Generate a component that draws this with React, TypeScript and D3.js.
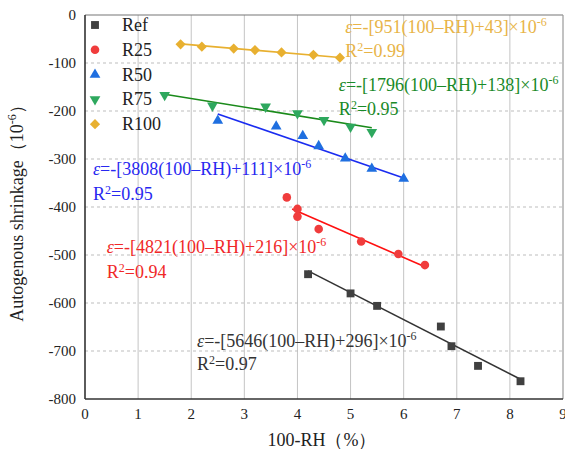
import React from "react";
import * as d3 from "d3";

const seriesNames = ["Ref", "R25", "R50", "R75", "R100"];
const refX = [4.2, 5.0, 5.5, 6.7, 6.9, 7.4, 8.2];
const refY = [-540, -580, -606, -649, -690, -731, -763];
const r25X = [3.8, 4.0, 4.0, 4.4, 5.2, 5.9, 6.4];
const r25Y = [-380, -404, -420, -446, -472, -498, -521];
const r50X = [2.5, 3.6, 4.1, 4.4, 4.9, 5.4, 6.0];
const r50Y = [-220, -232, -252, -273, -299, -320, -341];
const r75X = [1.5, 2.4, 3.4, 4.0, 4.5, 5.0, 5.4];
const r75Y = [-167, -189, -191, -205, -219, -233, -244];
const r100X = [1.8, 2.2, 2.8, 3.2, 3.7, 4.3, 4.8];
const r100Y = [-61, -66, -70, -73, -78, -83, -89];

// fit equations: eps = -[a(100-RH)+b]x10^-6 (100-RH as fraction)
const fitA = [5646, 4821, 3808, 1796, 951];
const fitB = [296, 216, 111, 138, 43];
const fitR2 = ["0.97", "0.94", "0.95", "0.95", "0.99"];
const fitRange: [number, number][] = [[4.2, 8.2], [3.9, 6.4], [2.5, 6.0], [1.5, 5.4], [1.8, 4.8]];

const xTicks = [0, 1, 2, 3, 4, 5, 6, 7, 8, 9];
const yTicks = [0, -100, -200, -300, -400, -500, -600, -700, -800];

const markerColors = ["#404040", "#f03c3c", "#1f6fe0", "#2ea85e", "#e8b030"];
const lineColors = ["#333333", "#ff1010", "#1a2cf0", "#1a8a1a", "#e8b030"];
const textColors = ["#333333", "#f02828", "#2828f0", "#1a8a28", "#e8b448"];
const symbols = [d3.symbolSquare, d3.symbolCircle, d3.symbolTriangle, d3.symbolTriangle, d3.symbolSquare];
const symbolSizes = [62, 58, 50, 50, 52];
const rotations = [0, 0, 0, 180, 45];

// annotation anchors (data coords of text start), baseline of eq line and R2 line
const annX = [2.11, 0.41, 0.15, 4.78, 4.9];
const annY = [-692, -496, -333, -158, -37.5];
const r2Y = [-740, -548, -385, -208, -87.5];

const xs = [refX, r25X, r50X, r75X, r100X];
const ysAll = [refY, r25Y, r50Y, r75Y, r100Y];

export default function App() {
  const W = 565, H = 457;
  const m = { left: 85, right: 2, top: 15, bottom: 58 };
  const x = d3.scaleLinear().domain([0, 9]).range([m.left, W - m.right]);
  const y = d3.scaleLinear().domain([-800, 0]).range([H - m.bottom, m.top]);
  const font = "Liberation Serif, DejaVu Serif, serif";
  const line = d3.line<[number, number]>().x(d => x(d[0])).y(d => y(d[1]));

  return (
    <svg width={W} height={H} style={{ position: "absolute", left: 0, top: 0, fontFamily: font }}>
      <rect x={0} y={0} width={W} height={H} fill="#fff" />
      {/* grid */}
      {xTicks.slice(1, -1).map(t => (
        <line key={"gx" + t} x1={x(t)} x2={x(t)} y1={y(0)} y2={y(-800)} stroke="#c4c4c4" strokeWidth={1} />
      ))}
      {yTicks.slice(1, -1).map(t => (
        <line key={"gy" + t} x1={x(0)} x2={x(9)} y1={y(t)} y2={y(t)} stroke="#bdbdbd" strokeWidth={1} strokeDasharray="3,3" />
      ))}
      {/* frame */}
      <line x1={x(0)} x2={x(9)} y1={y(0)} y2={y(0)} stroke="#777" strokeWidth={1.2} />
      <line x1={x(9)} x2={x(9)} y1={y(0)} y2={y(-800)} stroke="#999" strokeWidth={1.2} />
      <line x1={x(0)} x2={x(0)} y1={y(0)} y2={y(-800)} stroke="#333" strokeWidth={1.6} />
      <line x1={x(0)} x2={x(9)} y1={y(-800)} y2={y(-800)} stroke="#333" strokeWidth={1.6} />
      {/* tick labels */}
      {xTicks.map(t => (
        <text key={"tx" + t} x={x(t)} y={y(-800) + 20} textAnchor="middle" fontSize={15} fill="#222">{t}</text>
      ))}
      {yTicks.map(t => (
        <text key={"ty" + t} x={x(0) - 9} y={y(t) + 5} textAnchor="end" fontSize={15} fill="#222">{t}</text>
      ))}
      {/* axis titles */}
      <text x={322} y={446} textAnchor="middle" fontSize={18} fill="#222">100-RH（%）</text>
      <text transform={`translate(23,${209}) rotate(-90)`} textAnchor="middle" fontSize={18} fill="#222">
        Autogenous shrinkage（10<tspan dy={-7} fontSize={12}>-6</tspan><tspan dy={7}>）</tspan>
      </text>
      {/* fit lines */}
      {fitA.map((a, i) => {
        const pts: [number, number][] = fitRange[i].map(v => [v, -(a / 100 * v + fitB[i])] as [number, number]);
        return <path key={"fit" + i} d={line(pts) || ""} fill="none" stroke={lineColors[i]} strokeWidth={1.6} />;
      })}
      {/* markers */}
      {xs.map((arr, i) => arr.map((v, j) => (
        <path key={"m" + i + "-" + j}
          d={d3.symbol().type(symbols[i]).size(symbolSizes[i])() || ""}
          transform={`translate(${x(v)},${y(ysAll[i][j])}) rotate(${rotations[i]})`}
          fill={markerColors[i]} />
      )))}
      {/* annotations */}
      {fitA.map((a, i) => (
        <g key={"ann" + i} fill={textColors[i]} fontSize={18}>
          <text x={x(annX[i])} y={y(annY[i])}>
            <tspan fontStyle="italic">ε</tspan>=-[{a}(100–RH)+{fitB[i]}]×10<tspan dy={-7} fontSize={12}>-6</tspan>
          </text>
          <text x={x(annX[i])} y={y(r2Y[i])}>
            R<tspan dy={-6} fontSize={12}>2</tspan><tspan dy={6}>={fitR2[i]}</tspan>
          </text>
        </g>
      ))}
      {/* legend */}
      {seriesNames.map((n, i) => (
        <g key={"lg" + i} transform={`translate(95,${25 + i * 24.8})`}>
          <path d={d3.symbol().type(symbols[i]).size(symbolSizes[i])() || ""} transform={`rotate(${rotations[i]})`} fill={markerColors[i]} />
          <text x={27} y={6} fontSize={18} fill="#222">{n}</text>
        </g>
      ))}
    </svg>
  );
}
